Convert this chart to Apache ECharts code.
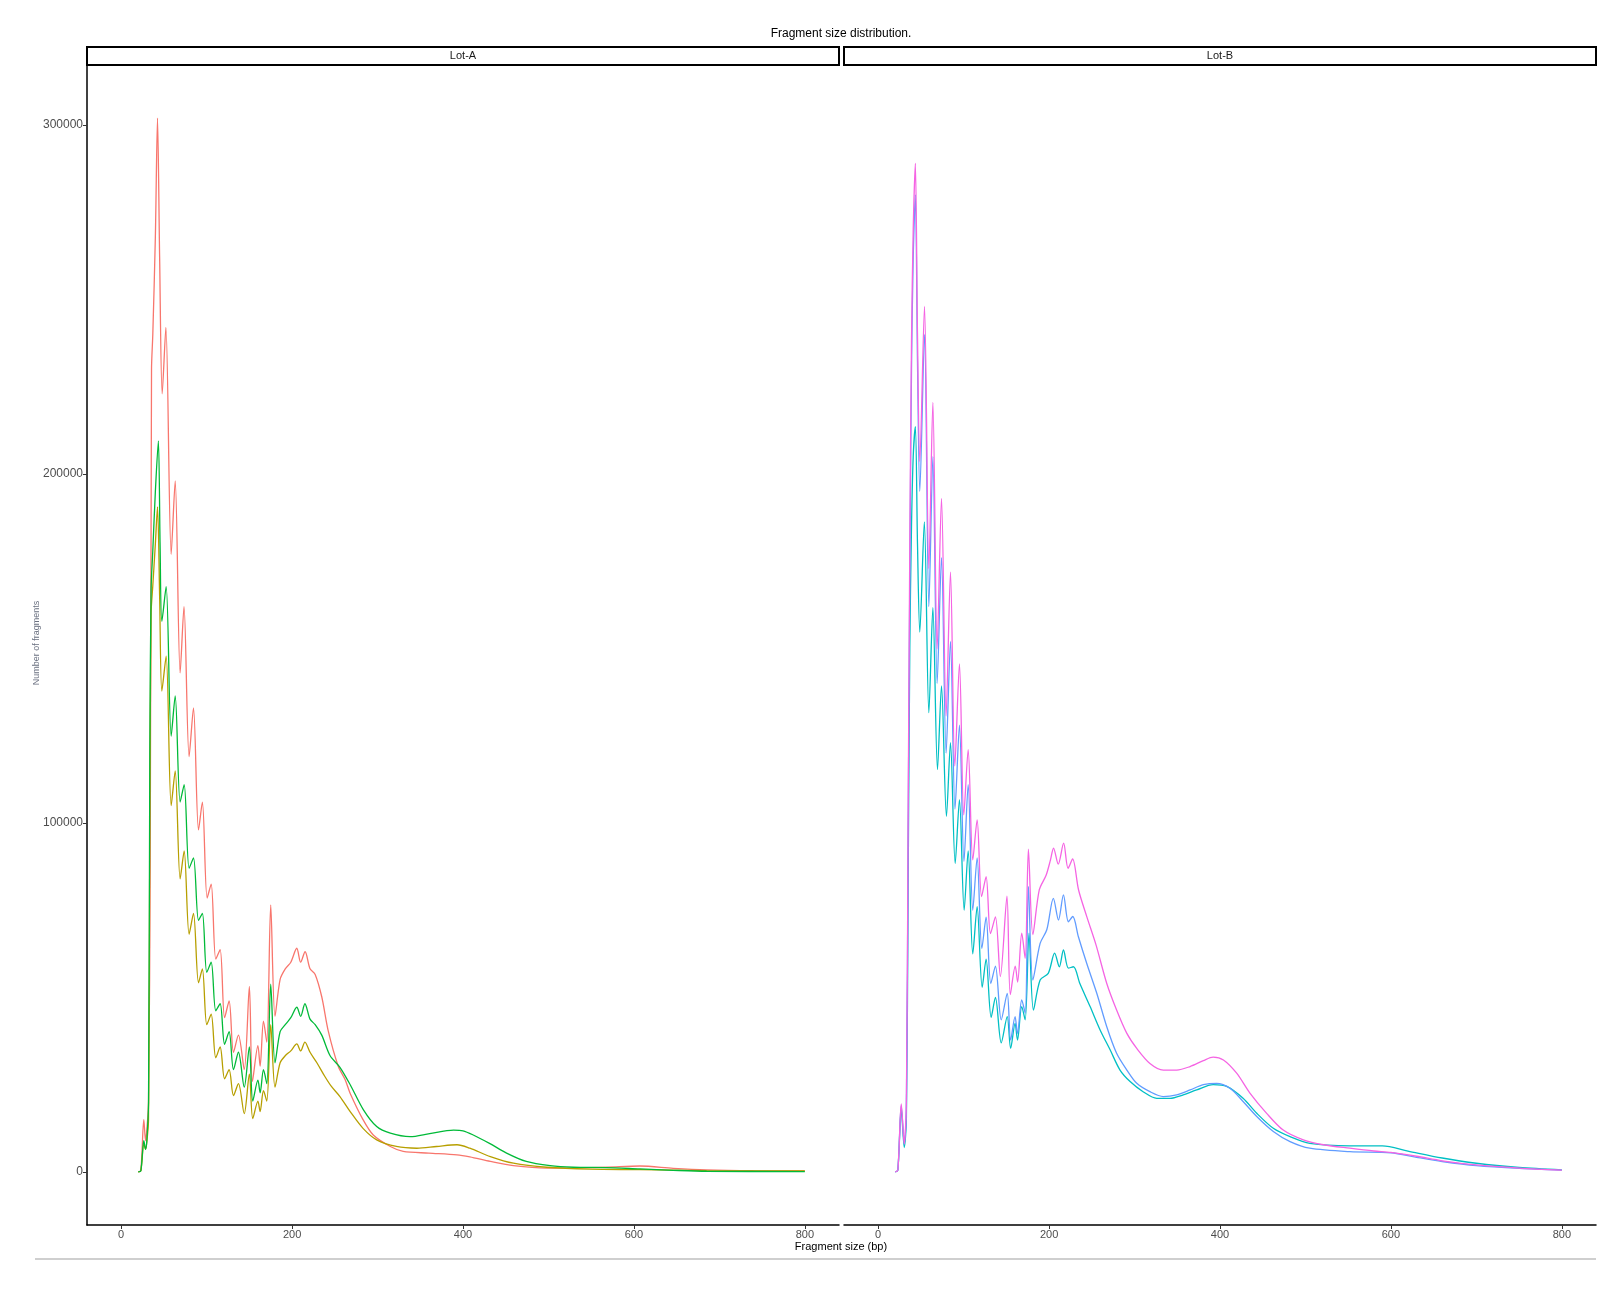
<!DOCTYPE html>
<html><head><meta charset="utf-8">
<script src="https://cdn.jsdelivr.net/npm/echarts@6/dist/echarts.min.js"></script>
<style>html,body{margin:0;padding:0;background:#fff}#c{width:1624px;height:1304px}</style>
</head><body><div id="c"></div>
<script>
// ---- Tick labels / panels ----
const panels = ['Lot-A', 'Lot-B'];
const xTicks = [0, 200, 400, 600, 800];
const yTicks = [0, 100000, 200000, 300000];

// ---- Lot-A series (fragment size bp, number of fragments) ----
const redBp = [20,23,26.5,28.5,30,32,34,35.5,37,40,42.5,45,48,52.3,58.5,63.2,69,73.5,79.5,84.6,90.5,95,100.6,105.3,110.7,115.8,121,126.3,131.4,137.2,144,150,153.6,160,162.6,166.5,170.4,175,180,186,192,198.5,205.5,210,215.2,221,227,234.7,242.5,254,262,268,283,295,315,330,360,393,408,432,459,498,529,570,607,646,685,740,800];
const redN = [0,500,15000,9000,12000,20000,90000,230000,240000,268000,302000,262000,223000,242000,177000,198000,143000,162000,119000,133000,98000,106000,78500,82500,61000,63700,44200,49000,34300,39200,29300,53200,25900,36200,30300,43200,37200,76500,44600,55200,58200,60100,64100,60100,63100,58200,56600,50200,40200,30300,26500,22500,15000,10600,7300,5900,5400,4900,4300,3000,1800,1100,1150,1400,1700,1050,600,350,300];

const oliveBp = [20,23,26.5,28.5,30,32,33.5,35,37,40,42.5,45,47.6,52.6,58.5,63.2,69,73.7,79.5,84.6,90.5,95,100.2,105.3,110.7,115.8,121,126.3,131.4,137.2,144,150,154,160,162.6,166.5,170.4,175,180,186,192,198.5,205.5,210,215,221,229,238,246,256,268,283,299,322,346,369,393,408,432,459,498,549,607,685,800];
const oliveN = [0,300,8000,6500,8500,15000,100000,160000,168000,180000,190600,165000,137800,147800,105000,114900,84000,92000,68100,74100,54200,58200,42200,45200,32700,35800,26700,29300,21900,25300,16700,28000,15300,20300,17300,23300,20300,42200,24300,31300,33300,34700,36700,34700,37200,34300,31300,27500,24500,21600,17300,12500,9200,7300,6800,7300,7800,6800,4400,2500,1350,800,670,380,290];

const greenBp = [20,23,26.5,28.5,30,32,33.5,35,37,40,43.5,45.5,47.6,52.6,58.5,63.2,69,73.7,79.5,84.6,90.5,95,100.2,105.3,110.7,115.8,121,126.3,131.4,137.2,144,150,154,160,162.6,166.5,170.4,175,180,186,192,198.5,205.5,210,215,221,227,234.7,244.5,256,268,283.5,299,315,338,361,389,400,412,431,451,474,502,529,568,607,646,685,800];
const greenN = [0,300,9000,6500,9000,20000,120000,167000,178000,195000,209500,180000,157800,167700,124900,136400,106000,111000,87000,90000,72100,74100,57200,60100,46200,48200,36600,40200,29300,34300,24300,35800,20300,26300,22700,29300,25300,53800,31300,40200,42200,44200,47200,44600,48200,43800,42200,39200,33300,30000,25000,17800,13000,11100,10100,11000,12000,11800,10600,8200,5400,3000,1800,1350,1250,860,480,200,100];

// ---- Lot-B series ----
const cyanBp = [20,23,27,30.5,33,35,37,39,41,43.5,46,48.7,54,59.3,64,69.4,74.1,79.9,84.6,90.1,95.1,100.6,105.3,110.7,115.8,121.7,126.3,132.2,137.2,144,151,155,160.2,163,168,172,176.5,181.7,189.5,199,206.5,212,216.8,222.6,228.5,236,248,259.7,271.4,283,294.8,310,326,341.5,357,372.7,392,407.8,427,443,462.4,482,505,552,590,620,660,700,750,800];
const cyanN = [0,500,18000,7000,15000,80000,150000,185000,205000,213600,180000,154700,186300,131600,161700,115300,139300,101900,123000,88400,106700,75000,92000,62500,76000,52900,61000,44300,50000,37000,44500,35400,42600,37800,47400,43600,68400,46400,55000,56900,62700,58800,63600,58400,58800,54000,47400,40700,35000,29200,25900,23000,21100,21100,22100,23500,25000,24500,21100,16800,12500,10100,8200,7500,7500,6000,4000,2500,1300,600];

const blueBp = [20,23,27,30.5,33,35,37,39,41,43.5,46,48.7,54.2,59.3,64,69,74.1,79.5,84.6,89.9,95.1,100.4,105.3,110.7,115.8,121.3,126.3,131.8,137.2,144,151,155,160.2,163,168,172,175.8,181,189.5,197.3,205,211,216.8,222.6,227.7,234.3,244,255.8,267.5,279,291,302.6,318,333.7,349.3,365,380.5,396,411.7,427,443,462.4,482,505,552,600,630,660,700,750,800];
const blueN = [0,500,19000,8000,18000,95000,170000,230000,262000,280000,232000,195000,240000,162000,205000,140000,176000,120000,152000,104000,128000,89000,111000,75000,90000,64000,73000,54000,59000,43600,51200,37800,44500,39700,49300,45500,81800,55000,65500,69400,78400,72200,79400,71700,73200,67400,59800,51200,41600,34000,29200,25400,23000,21600,22100,23500,25000,25400,24000,20200,15900,11600,8700,6800,5800,5500,4200,3000,1800,1000,500];

const magBp = [20,23,27,30.5,33,35,37,39,41,43.5,46,48.7,54.2,59.3,64,69,74.1,79.5,84.6,89.7,95.1,100.2,105.3,110.7,115.8,121,126.3,131.4,137.2,143,150.7,154.6,160.4,163.2,168,172,175.8,181,188.5,196.5,201.6,205.2,210.7,217,222.2,227.5,234.5,244.2,255,267.5,279,291,302.6,318,333.7,349.3,365,380.5,392,404,419.5,435,454.6,474,497.5,521,552,580,600,630,660,700,750,800];
const magN = [0,500,19500,8000,20000,100000,180000,238000,270000,289000,240000,203600,248000,172900,220500,149900,193000,130700,171900,116300,145600,102300,121000,89400,100900,78900,84600,68300,73100,56000,79000,50800,59000,54400,68400,61200,92500,68000,80800,85000,89400,92800,88200,94200,87000,89700,80800,73100,65000,54000,46400,39700,35400,31100,29200,29200,30200,31900,32900,32100,28300,22600,16800,12000,9200,7800,6800,6000,5600,4500,3200,2000,1100,500];

// ---- build ----
const FONT = '"Liberation Sans", Arial, sans-serif';
function pairs(xs, ys) { return xs.map((x, i) => [x, ys[i]]); }
const seriesDefs = [
  {panel: 0, x: redBp, y: redN, color: '#F8766D'},
  {panel: 0, x: oliveBp, y: oliveN, color: '#B79F00'},
  {panel: 0, x: greenBp, y: greenN, color: '#00BA38'},
  {panel: 1, x: cyanBp, y: cyanN, color: '#00BFC4'},
  {panel: 1, x: blueBp, y: blueN, color: '#619CFF'},
  {panel: 1, x: magBp, y: magN, color: '#F564E3'}
];
const G = {top: 65, height: 1160, width: 752, lefts: [87, 844]};

const chart = echarts.init(document.getElementById('c'));
const option = {
  animation: false,
  backgroundColor: '#ffffff',
  grid: G.lefts.map(l => ({left: l, top: G.top, width: G.width, height: G.height, containLabel: false})),
  xAxis: [0, 1].map(i => ({
    type: 'value', gridIndex: i, min: -40, max: 840,
    splitLine: {show: false},
    axisLine: {show: true, onZero: false, lineStyle: {color: '#000', width: 1.5}},
    axisTick: {show: true, customValues: xTicks, length: 4, lineStyle: {color: '#333', width: 1}},
    axisLabel: {show: true, customValues: xTicks, color: '#4d4d4d', fontSize: 11, fontFamily: FONT, margin: 4,
      formatter: v => String(v)}
  })),
  yAxis: [0, 1].map(i => ({
    type: 'value', gridIndex: i, min: -15200, max: 317200,
    splitLine: {show: false},
    axisLine: {show: i === 0, onZero: false, lineStyle: {color: '#000', width: 1.5}},
    axisTick: {show: i === 0, customValues: yTicks, length: 4, lineStyle: {color: '#333', width: 1}},
    axisLabel: {show: i === 0, customValues: yTicks, color: '#4d4d4d', fontSize: 12, fontFamily: FONT, margin: 4,
      formatter: v => String(v)}
  })),
  series: seriesDefs.map(s => ({
    type: 'line', xAxisIndex: s.panel, yAxisIndex: s.panel,
    data: pairs(s.x, s.y), showSymbol: false, smooth: 0.3,
    lineStyle: {color: s.color, width: 1.3}, itemStyle: {color: s.color},
    emphasis: {disabled: true}
  })),
  graphic: [
    {type: 'text', x: 841, y: 34, style: {text: 'Fragment size distribution.', fill: '#000', font: '12px ' + FONT, align: 'center', verticalAlign: 'middle'}},
    {type: 'rect', shape: {x: 87, y: 47, width: 752, height: 18}, style: {fill: '#fff', stroke: '#000', lineWidth: 2}},
    {type: 'rect', shape: {x: 844, y: 47, width: 752, height: 18}, style: {fill: '#fff', stroke: '#000', lineWidth: 2}},
    {type: 'text', x: 463, y: 56, style: {text: panels[0], fill: '#1a1a1a', font: '11px ' + FONT, align: 'center', verticalAlign: 'middle'}},
    {type: 'text', x: 1220, y: 56, style: {text: panels[1], fill: '#1a1a1a', font: '11px ' + FONT, align: 'center', verticalAlign: 'middle'}},
    {type: 'text', x: 841, y: 1247, style: {text: 'Fragment size (bp)', fill: '#000', font: '11px ' + FONT, align: 'center', verticalAlign: 'middle'}},
    {type: 'text', x: 37, y: 643, rotation: Math.PI / 2, style: {text: 'Number of fragments', fill: '#6a7080', font: '9px ' + FONT, align: 'center', verticalAlign: 'middle'}},
    {type: 'line', shape: {x1: 35, y1: 1259, x2: 1596, y2: 1259}, style: {stroke: '#cfcfcf', lineWidth: 2}}
  ]
};
chart.setOption(option);
</script>
</body></html>
